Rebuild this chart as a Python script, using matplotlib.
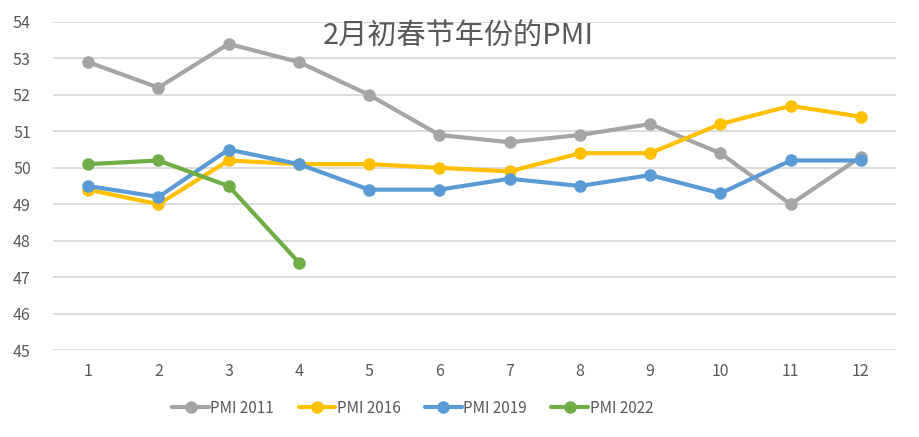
import matplotlib
matplotlib.use("Agg")
import matplotlib.pyplot as plt

plt.rcParams["font.family"] = ["Noto Sans CJK SC", "DejaVu Sans"]

months = [1, 2, 3, 4, 5, 6, 7, 8, 9, 10, 11, 12]
pmi_2011 = [52.9, 52.2, 53.4, 52.9, 52.0, 50.9, 50.7, 50.9, 51.2, 50.4, 49.0, 50.3]
pmi_2016 = [49.4, 49.0, 50.2, 50.1, 50.1, 50.0, 49.9, 50.4, 50.4, 51.2, 51.7, 51.4]
pmi_2019 = [49.5, 49.2, 50.5, 50.1, 49.4, 49.4, 49.7, 49.5, 49.8, 49.3, 50.2, 50.2]
pmi_2022 = [50.1, 50.2, 49.5, 47.4]
labels = ["PMI 2011", "PMI 2016", "PMI 2019", "PMI 2022"]
colors = ["#A5A5A5", "#FFC000", "#5B9BD5", "#70AD47"]
yticks = [45, 46, 47, 48, 49, 50, 51, 52, 53, 54]

TEXT = "#595959"

fig = plt.figure(figsize=(9.19, 4.37), dpi=100)
ax = fig.add_axes([0.0577, 0.199, 0.9173, 0.7507])

series = [pmi_2011, pmi_2016, pmi_2019, pmi_2022]
for vals, lab, col in zip(series, labels, colors):
    ax.plot(months[:len(vals)], vals, color=col, lw=3, marker="o", ms=8,
            label=lab, solid_capstyle="round", zorder=3)

ax.set_xlim(0.5, 12.5)
ax.set_ylim(45, 54)
ax.set_xticks(months)
ax.set_yticks(yticks)
ax.grid(axis="y", color="#D9D9D9", lw=1.3, zorder=0)
for s in ax.spines.values():
    s.set_visible(False)
ax.tick_params(length=0, colors=TEXT, labelsize=11.5)
ax.tick_params(axis="y", pad=16)
ax.tick_params(axis="x", pad=9)

# title sits inside the plot area, a bit left of centre like the original
ax.text(0.481, 0.955, "2月初春节年份的PMI", transform=ax.transAxes,
        ha="center", va="center", fontsize=21, color=TEXT, fontweight="light")

fig.legend(loc="center", bbox_to_anchor=(0.449, 0.066), ncol=4, frameon=False,
           fontsize=11, labelcolor=TEXT, handlelength=2.4, handletextpad=0.1,
           columnspacing=1.6)

fig.savefig("out.png", dpi=100)
